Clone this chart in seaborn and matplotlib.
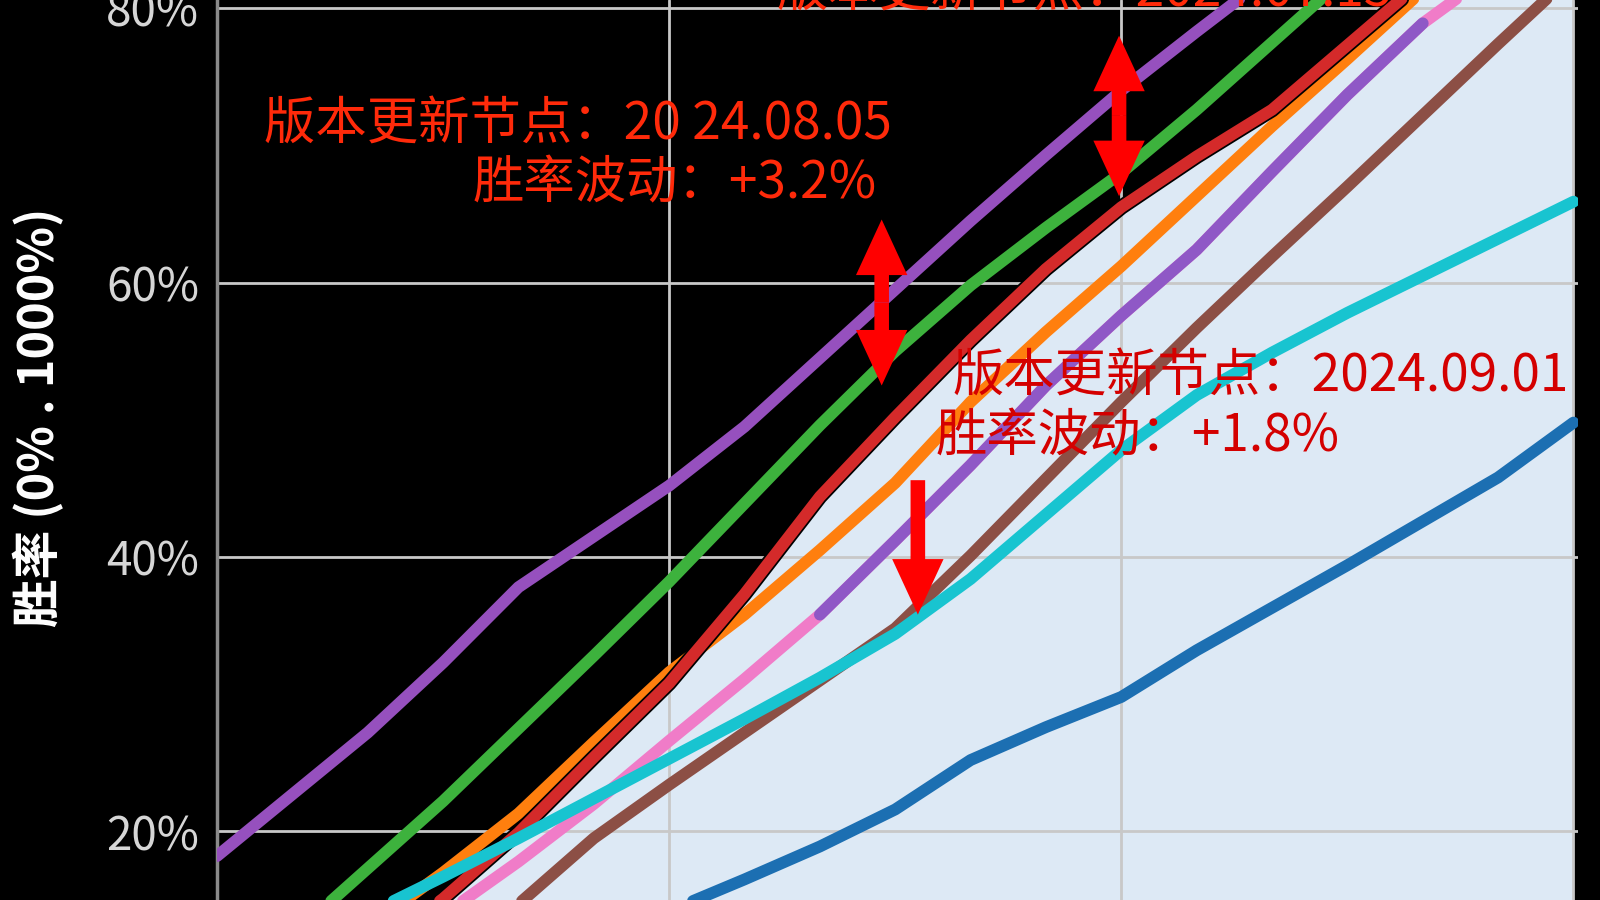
import matplotlib
matplotlib.use("Agg")
import matplotlib.pyplot as plt
import matplotlib.patheffects as pe
import seaborn as sns

sns.set_theme(style="dark")
plt.rcParams['font.family'] = ['Noto Sans CJK SC', 'DejaVu Sans']
plt.rcParams['axes.unicode_minus'] = False

# ---- data (win rate %, sampled at 19 points; gridline every 6 points) ----
x_points = list(range(19))

blue = [-0.5, 2.0, 4.5, 7.0, 9.5, 12.0, 14.2, 16.5, 18.9, 21.6, 25.2, 27.6, 29.8, 33.2, 36.3, 39.4, 42.6, 45.8, 49.8]
orange = [5.5, 9.3, 13.0, 17.0, 21.3, 26.5, 31.6, 35.8, 40.5, 45.4, 51.3, 56.4, 61.2, 66.3, 71.4, 76.3, 81.3, 86.0, 91.0]
green = [7.6, 12.4, 17.3, 22.2, 27.5, 32.8, 38.2, 43.9, 49.6, 55.0, 59.8, 64.0, 68.0, 72.6, 77.5, 82.4, 87.3, 92.0, 97.0]
red = [3.0, 7.0, 11.0, 15.1, 19.9, 25.4, 30.8, 37.3, 44.4, 50.2, 55.8, 61.0, 65.5, 69.2, 72.6, 77.3, 82.0, 86.5, 91.0]
purple = [18.2, 22.7, 27.2, 32.3, 37.8, 41.5, 45.2, 49.5, 54.5, 59.5, 64.5, 69.3, 74.0, 78.3, 82.5, 86.6, 90.7, 94.8, 99.0]
brown = [-3.3, 1.2, 5.7, 10.2, 14.7, 19.5, 23.4, 27.2, 31.0, 34.8, 40.1, 45.7, 51.3, 56.7, 61.9, 67.0, 72.2, 77.4, 82.5]
pink = [2.0, 6.0, 10.0, 13.9, 17.8, 22.0, 26.6, 31.1, 35.8, 41.2, 46.7, 52.5, 57.6, 62.4, 68.1, 73.7, 78.9, 82.9, 86.9]
cyan = [8.6, 11.3, 14.0, 16.7, 19.5, 22.4, 25.3, 28.2, 31.2, 34.4, 38.4, 43.1, 47.8, 51.8, 54.9, 57.8, 60.5, 63.2, 65.9]
# second purple series, overlapping the pink one in the middle part
purple2_x = [8, 9, 10, 11, 12, 13, 14, 15, 16]
purple2 = [35.8, 41.2, 46.7, 52.5, 57.6, 62.4, 68.1, 73.7, 78.9]

y_ticks = [20, 40, 60, 80]
y_tick_labels = ['20%', '40%', '60%', '80%']

# ---- figure ----
fig = plt.figure(figsize=(16, 9), dpi=100, facecolor='black')
ax = fig.add_axes([217 / 1600, 0, 1361 / 1600, 1])
ax.set_facecolor('black')

# light area under the red series
ax.fill_between(x_points, red, -10, color='#dde9f5', lw=0, zorder=0.2)

line_w = 8.5
series = [
    (blue, '#1c6fb2'),
    (orange, '#ff7f0e'),
    (green, '#3db23d'),
    (red, '#d42a2a'),
    (purple, '#9650be'),
    (brown, '#8c4f45'),
    (pink, '#f07cc8'),
]
for vals, col in series:
    sns.lineplot(x=x_points, y=vals, color=col, lw=line_w, ax=ax, zorder=3)
sns.lineplot(x=purple2_x, y=purple2, color='#8f58c6', lw=line_w, ax=ax, zorder=3)
sns.lineplot(x=x_points, y=cyan, color='#18c4d0', lw=line_w, ax=ax, zorder=3)

# dark edge under the red line (boundary of the light area)
red_line = ax.lines[3]
red_line.set_path_effects([pe.Stroke(linewidth=line_w + 2.5, foreground='black'), pe.Normal()])

ax.set_xlim(0, 18.06)
ax.set_ylim(15.0, 80.6)
ax.set_xticks([0, 6, 12, 18])
ax.set_xticklabels([])
ax.set_yticks(y_ticks)
ax.set_yticklabels(y_tick_labels)
ax.tick_params(axis='both', length=0)
ax.tick_params(axis='y', labelsize=33, labelcolor='#d6d6d6', pad=13)
ax.grid(True, color='#c8c8c8', lw=2)
ax.set_axisbelow(True)
for side in ['top', 'right', 'bottom']:
    ax.spines[side].set_visible(False)
ax.spines['left'].set_color('#8a8a8a')
ax.spines['left'].set_linewidth(2.5)

ax.set_xlabel('')
ax.set_ylabel('胜率 (0% . 1000%)', fontsize=35, fontweight='bold', color='white')
ax.yaxis.set_label_coords(-0.112, 0.536)

# ---- annotations ----
bright_red = '#ff2a0a'
dark_red = '#d40000'

ax.text(7.43, 81.2, '版本更新节点：2024.07.15', fontsize=37, color=bright_red,
        ha='left', va='center', clip_on=False, zorder=6)

ax.text(8.95, 71.5, '版本更新节点：20 24.08.05', fontsize=37, color=bright_red,
        ha='right', va='center', zorder=6)
ax.text(8.76, 67.2, '胜率波动：+3.2%', fontsize=37, color=bright_red,
        ha='right', va='center', zorder=6)

ax.text(9.76, 53.1, '版本更新节点：2024.09.01', fontsize=37, color=dark_red,
        ha='left', va='center', zorder=6)
ax.text(9.53, 48.8, '胜率波动：+1.8%', fontsize=37, color=dark_red,
        ha='left', va='center', zorder=6)

arrow_style = 'simple,head_length=4.0,head_width=3.7,tail_width=1.05'


def draw_arrow(x, y_start, y_end):
    ax.annotate('', xy=(x, y_end), xytext=(x, y_start),
                arrowprops=dict(arrowstyle=arrow_style, color='#ff0000', lw=0,
                                shrinkA=0, shrinkB=0, mutation_scale=10),
                zorder=7)


# double arrows: drawn from the middle outwards
draw_arrow(8.82, 58.55, 64.6)
draw_arrow(8.82, 58.55, 52.5)
draw_arrow(11.97, 72.15, 78.0)
draw_arrow(11.97, 72.15, 66.3)
# single arrow pointing down
draw_arrow(9.30, 45.6, 35.8)

fig.savefig('out.png', dpi=100, facecolor='black')
